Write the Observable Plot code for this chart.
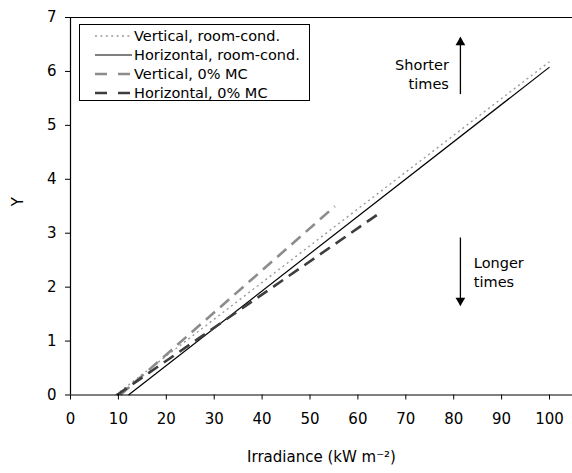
<!DOCTYPE html>
<html>
<head>
<meta charset="utf-8">
<script src="https://cdn.jsdelivr.net/npm/d3@7"></script>
<script src="https://cdn.jsdelivr.net/npm/@observablehq/plot@0.6"></script>
<style>
  html, body { margin: 0; padding: 0; background: white; }
  #wrap { position: relative; width: 572px; height: 473px; font-family: "DejaVu Sans", Verdana, sans-serif; }
  #legend { position: absolute; left: 79px; top: 24px; width: 231px; height: 77px; border: 1px solid #000; background: white; box-sizing: border-box; padding-top: 1px; }
  .row { height: 19px; display: flex; align-items: center; font-size: 14.5px; color: #000; white-space: nowrap; }
  .row svg { margin-left: 15px; margin-right: 2px; flex: none; }
</style>
</head>
<body>
<div id="wrap"><div id="chart"></div><div id="legend"></div></div>
<script>
// Tick labels
const xTicks = [0, 10, 20, 30, 40, 50, 60, 70, 80, 90, 100];
const yTicks = [0, 1, 2, 3, 4, 5, 6, 7];

// Series (irradiance, Y)
const vertRoomX = [9.4, 100];
const vertRoomY = [0, 6.18];
const horizRoomX = [12.1, 100];
const horizRoomY = [0, 6.08];
const vert0X = [10.4, 55.2];
const vert0Y = [0, 3.5];
const horiz0X = [9.7, 64.0];
const horiz0Y = [0, 3.34];

// Legend labels
const seriesNames = ["Vertical, room-cond.", "Horizontal, room-cond.", "Vertical, 0% MC", "Horizontal, 0% MC"];
const seriesStroke = ["#9a9a9a", "#000000", "#8c8c8c", "#3d3d3d"];
const seriesWidth = [1.4, 1.2, 2.6, 2.6];
const seriesDash = ["2,3.4", null, "12,7", "12,7"];

// Annotations
const upText = "Shorter\ntimes";
const downText = "Longer\ntimes";
const upTextX = 79.0, upTextY = 5.97;
const downTextX = 84.2, downTextY = 2.29;
const arrowX = 81.4;
const upArrowY = [5.58, 6.63];
const downArrowY = [2.92, 1.66];

const toRows = (xs, ys) => xs.map((x, i) => ({x, y: ys[i]}));
const series = [toRows(vertRoomX, vertRoomY), toRows(horizRoomX, horizRoomY), toRows(vert0X, vert0Y), toRows(horiz0X, horiz0Y)];

const lineMarks = series.map((d, i) => Plot.line(d, {
  x: "x", y: "y", stroke: seriesStroke[i], strokeWidth: seriesWidth[i],
  strokeDasharray: seriesDash[i] || undefined, strokeLinecap: "butt"
}));

const arrowLinks = [upArrowY, downArrowY].map(a => ({x: arrowX, y1: a[0], y2: a[1]}));

const chart = Plot.plot({
  width: 572, height: 473,
  marginLeft: 70, marginRight: 0, marginTop: 17, marginBottom: 78.5,
  x: {domain: [0, 104.8]},
  y: {domain: [0, 7]},
  style: {fontFamily: "DejaVu Sans, Verdana, sans-serif", fontSize: "15px", background: "white", color: "#000", overflow: "visible"},
  marks: [
    ...lineMarks,
    Plot.ruleY([7], {stroke: "#000", strokeWidth: 1.2}),
    Plot.ruleY([0], {stroke: "#000", strokeWidth: 1.2}),
    Plot.ruleX([0], {stroke: "#000", strokeWidth: 1.2}),
    Plot.axisX(xTicks, {tickSize: 5, tickPadding: 13, label: null, stroke: "#000", tickFormat: d => String(d)}),
    Plot.axisY(yTicks, {tickSize: 5, tickPadding: 9, label: null, stroke: "#000", tickFormat: d => String(d)}),
    Plot.link(arrowLinks, {x1: "x", x2: "x", y1: "y1", y2: "y2", stroke: "#000", strokeWidth: 1.3}),
    Plot.dot([{x: arrowX, y: upArrowY[1]}], {x: "x", y: "y", symbol: "triangle", r: 3.6, fill: "#000", stroke: null, dy: 5}),
    Plot.dot([{x: arrowX, y: downArrowY[1]}], {x: "x", y: "y", symbol: "triangle", r: 3.6, fill: "#000", stroke: null, rotate: 180, dy: -5}),
    Plot.text([upText], {x: upTextX, y: upTextY, textAnchor: "end", fontSize: 14.5, lineHeight: 1.33}),
    Plot.text([downText], {x: downTextX, y: downTextY, textAnchor: "start", fontSize: 14.5, lineHeight: 1.33}),
    Plot.text(["Y"], {frameAnchor: "left", dx: -52, rotate: -90, fontSize: 15}),
    Plot.text(["Irradiance (kW m\u207B\u00B2)"], {frameAnchor: "bottom", dy: 67, fontSize: 15})
  ]
});
document.getElementById("chart").appendChild(chart);

const legend = document.getElementById("legend");
seriesNames.forEach((name, i) => {
  const row = document.createElement("div");
  row.className = "row";
  const s = d3.create("svg").attr("width", 37).attr("height", 10);
  s.append("line").attr("x1", 0).attr("x2", 37).attr("y1", 5).attr("y2", 5)
    .attr("stroke", seriesStroke[i]).attr("stroke-width", seriesWidth[i])
    .attr("stroke-dasharray", seriesDash[i] ? (i >= 2 ? "12,11" : seriesDash[i]) : null);
  row.appendChild(s.node());
  const t = document.createElement("span");
  t.textContent = name;
  row.appendChild(t);
  legend.appendChild(row);
});
</script>
</body>
</html>
